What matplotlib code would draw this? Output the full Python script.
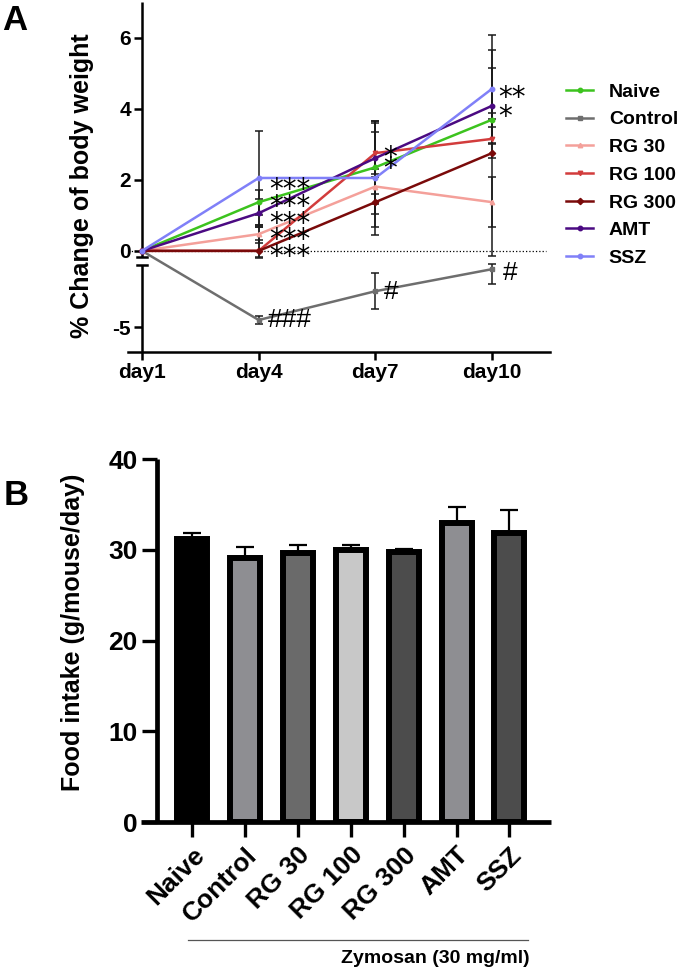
import matplotlib
matplotlib.use('Agg')
import matplotlib.pyplot as plt
import matplotlib.transforms as mtransforms
import numpy as np
from matplotlib.lines import Line2D

plt.rcParams['font.family'] = ['Liberation Sans', 'DejaVu Sans']
plt.rcParams['font.weight'] = 'bold'

# ---- data: panel A (% change of body weight) ----
days = [1, 4, 7, 10]
day_labels = ['day1', 'day4', 'day7', 'day10']
groups = ['Naive', 'Control', 'RG 30', 'RG 100', 'RG 300', 'AMT', 'SSZ']
bw_naive = [0, 1.37, 2.35, 3.69]
bw_control = [0, -4.80, -3.99, -3.37]
bw_rg30 = [0, 0.47, 1.81, 1.37]
bw_rg100 = [0, 0.0, 2.75, 3.15]
bw_rg300 = [0, 0.0, 1.37, 2.75]
bw_amt = [0, 1.06, 2.61, 4.08]
bw_ssz = [0, 2.05, 2.05, 4.56]
sem_naive = [0, 0.35, 1.3, 0.2]
sem_control = [0, 0.1, 0.5, 0.42]
sem_rg30 = [0, 0.25, 0.5, 0.7]
sem_rg100 = [0, 0.68, 0.6, 0.55]
sem_rg300 = [0, 0.3, 0.7, 2.9]
sem_amt = [0, 0.4, 1.0, 1.07]
sem_ssz = [0, 1.31, 1.6, 1.52]

# significance marks: star stacks (vs control) and hashes (vs naive)
star_text = ['***\n***\n***\n***\n***', '*\n*', '**\n*']
star_day = [4.26, 7.2, 10.15]
star_top = [1.95, 2.85, 4.54]
star_spacing = [0.49, 0.25, 0.58]
hash_text = ['###', '#', '#']
hash_day = [4.23, 7.22, 10.28]
hash_val = [-4.80, -4.0, -3.47]

# ---- data: panel B (food intake) ----
food = [31.2, 29.1, 29.6, 30.0, 29.7, 32.9, 31.9]
food_err = [0.6, 1.2, 0.9, 0.5, 0.4, 1.8, 2.5]

line_colors = ['#3cc31e', '#6e6e6e', '#f4a09a', '#d23c3c', '#7a0a0a', '#4b0a82', '#8080f8']
line_markers = ['o', 's', '^', 'v', 'D', 'o', 'o']
bar_colors = ['#000000', '#8e8e92', '#6a6a6a', '#c8c8c8', '#4c4c4c', '#8e8e92', '#4c4c4c']

W, H = 688, 971
fig = plt.figure(figsize=(W / 100, H / 100), dpi=100)


def px(x0, y0, x1, y1):
    return [x0 / W, 1 - y1 / H, (x1 - x0) / W, (y1 - y0) / H]


# broken y axis for panel A
lo_top, up_bot, gap = -3.25, -0.17, 0.225
shift = up_bot - gap - lo_top


def fwd(y):
    return np.interp(y, [-1e3, lo_top, up_bot, 1e3], [-1e3 + shift, up_bot - gap, up_bot, 1e3])


def inv(t):
    return np.interp(t, [-1e3 + shift, up_bot - gap, up_bot, 1e3], [-1e3, lo_top, up_bot, 1e3])


axA = fig.add_axes(px(128, 2, 550, 352))
axA.set_yscale('function', functions=(fwd, inv))
axA.set_xlim(0.64, 11.49)
axA.set_ylim(-5.70, 7.0)

series = [bw_naive, bw_control, bw_rg30, bw_rg100, bw_rg300, bw_amt, bw_ssz]
sems = [sem_naive, sem_control, sem_rg30, sem_rg100, sem_rg300, sem_amt, sem_ssz]
handles = []
for name, vals, err, c, m in zip(groups, series, sems, line_colors, line_markers):
    axA.errorbar(days, vals, yerr=err, errorevery=(1, 1), fmt='none', ecolor='#1a1a1a',
                 elinewidth=1.1, capsize=3, capthick=1.1, zorder=2)
    axA.plot(days, vals, color=c, marker=m, ms=3.2, lw=1.8, zorder=3)
    handles.append(Line2D([], [], color=c, marker=m, ms=3.2, lw=1.8, label=name))

axA.axhline(0, xmin=0.0, xmax=0.99, color='k', ls=':', lw=0.9, zorder=1)

# asterisks sit high in the line box, nudge them up so the glyph centre hits the value
star_tr = mtransforms.offset_copy(axA.transData, fig=fig, y=4, units='points')
for t, d, v, ls in zip(star_text, star_day, star_top, star_spacing):
    axA.text(d, v, t, transform=star_tr, fontsize=20, fontweight='normal',
             family='DejaVu Sans', ha='left', va='top', linespacing=ls,
             multialignment='left', zorder=4)
for t, d, v in zip(hash_text, hash_day, hash_val):
    axA.text(d, v, t, fontsize=19, fontweight='normal', ha='left', va='center', zorder=4)

for s in ['top', 'right']:
    axA.spines[s].set_visible(False)
axA.spines['left'].set_position(('data', 1))
axA.spines['left'].set_visible(False)
axA.spines['bottom'].set_linewidth(1.8)
axA.plot([1, 1], [-5.70, lo_top], color='k', lw=1.8, clip_on=False, solid_capstyle='butt')
axA.plot([1, 1], [up_bot, 7.0], color='k', lw=1.8, clip_on=False, solid_capstyle='butt')
for yb in [lo_top, up_bot]:
    axA.plot([0.86, 1.14], [yb, yb], color='k', lw=1.8, clip_on=False)

axA.set_yticks([-5, 0, 2, 4, 6])
axA.set_yticklabels(['-5', '0', '2', '4', '6'])
axA.set_xticks(days)
axA.set_xticklabels(day_labels)
axA.tick_params(axis='both', direction='out', length=6, width=1.8, labelsize=15, pad=2)
axA.minorticks_off()
fig.text(82 / W, 1 - 186 / H, '% Change of body weight', rotation=90, fontsize=18,
         ha='center', va='center')

fig.legend(handles=handles, loc='center left', bbox_to_anchor=(566 / W, 1 - 175 / H),
           frameon=False, fontsize=14, handlelength=1.4, handletextpad=0.8,
           labelspacing=0.52, borderpad=0, borderaxespad=0)

fig.text(2 / W, 1 - 20 / H, 'A', fontsize=25, ha='left', va='center')

# ---- panel B ----
axB = fig.add_axes(px(141, 459, 551, 822))
xpos = np.arange(len(groups))
axB.bar(xpos, food, width=0.567, color=bar_colors, edgecolor='k', linewidth=4.3, zorder=2)
axB.errorbar(xpos, food, yerr=[np.zeros(len(food)), food_err], fmt='none', ecolor='k',
             elinewidth=1.6, capsize=6.5, capthick=1.6, zorder=1)
axB.set_xlim(-0.964, 6.786)
axB.set_ylim(0, 40)
for s in ['top', 'right']:
    axB.spines[s].set_visible(False)
axB.spines['left'].set_position(('data', -0.66))
for s in ['left', 'bottom']:
    axB.spines[s].set_linewidth(3.4)
    axB.spines[s].set_capstyle('butt')
axB.set_yticks([0, 10, 20, 30, 40])
axB.tick_params(axis='y', direction='out', length=11, width=2.4, labelsize=19, pad=3)
axB.set_xticks(xpos)
axB.set_xticklabels(groups, rotation=45, ha='right', rotation_mode='anchor', fontsize=19)
axB.tick_params(axis='x', direction='out', length=11, width=2.4, pad=4)
fig.text(73 / W, 1 - 632 / H, 'Food intake (g/mouse/day)', rotation=90, fontsize=18,
         ha='center', va='center')
fig.text(4 / W, 1 - 495 / H, 'B', fontsize=25, ha='left', va='center')

fig.add_artist(Line2D([188 / W, 528 / W], [1 - 940 / H, 1 - 940 / H], color='#555555', lw=0.9))
fig.text(530 / W, 1 - 958 / H, 'Zymosan (30 mg/ml)', fontsize=14, ha='right', va='center')

fig.savefig('out.png', dpi=100)
